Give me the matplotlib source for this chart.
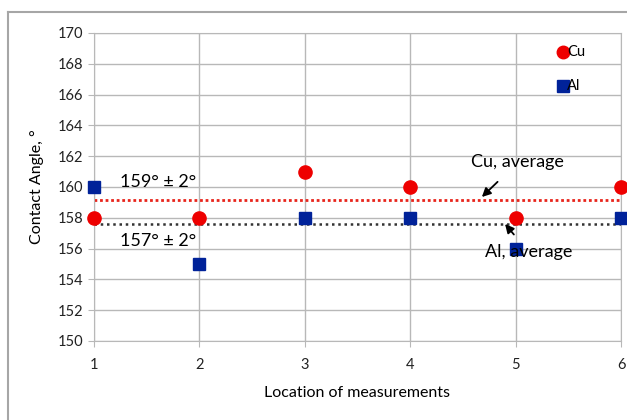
import matplotlib
matplotlib.use("Agg")
import matplotlib.pyplot as plt
from matplotlib.lines import Line2D

plt.rcParams['font.family'] = ['Lato', 'DejaVu Sans']

locations = [1, 2, 3, 4, 5, 6]
cu_values = [158, 158, 161, 160, 158, 160]
al_values = [160, 155, 158, 158, 156, 158]
cu_average = 159.15
al_average = 157.6
y_ticks = [150, 152, 154, 156, 158, 160, 162, 164, 166, 168, 170]

fig = plt.figure(figsize=(6.27, 4.2), dpi=100)
ax = fig.add_axes([94/627, 1-341/420, (621-94)/627, (341-33)/420])

# outer frame
fig.add_artist(Line2D([8/627, 8/627], [0, 1-12/420], transform=fig.transFigure, color='#a6a6a6', lw=1.5))
fig.add_artist(Line2D([8/627, 1], [1-12/420, 1-12/420], transform=fig.transFigure, color='#a6a6a6', lw=1.5))

ax.set_xlim(1, 6)
ax.set_ylim(150, 170)
ax.set_yticks(y_ticks)
ax.set_xticks(locations)
ax.grid(True, color='#b8b8b8', lw=1)
ax.set_axisbelow(True)
for s in ax.spines.values():
    s.set_color('#b8b8b8')
ax.tick_params(axis='both', length=4, color='#b8b8b8', labelsize=10.5, labelcolor='#222222')
ax.tick_params(axis='x', pad=8)

ax.plot([locations[0], locations[-1]], [cu_average]*2, color='#e8251c', lw=2, ls=(0, (1, 1)), zorder=2)
ax.plot([locations[0], locations[-1]], [al_average]*2, color='#333333', lw=1.8, ls=(0, (1, 1.5)), zorder=2)

ax.plot(locations, al_values, 's', color='#002299', ms=8.5, clip_on=False, zorder=3)
ax.plot(locations, cu_values, 'o', color='#ee0000', ms=9.5, clip_on=False, zorder=4)

# legend
ax.plot([5.45], [168.77], 'o', color='#ee0000', ms=9)
ax.text(5.49, 168.77, 'Cu', va='center', ha='left', fontsize=10.5)
ax.plot([5.45], [166.56], 's', color='#002299', ms=8)
ax.text(5.49, 166.56, 'Al', va='center', ha='left', fontsize=10.5)

ax.text(1.25, 160.3, '159° ± 2°', fontsize=13, va='center', ha='left')
ax.text(1.25, 156.5, '157° ± 2°', fontsize=13, va='center', ha='left')

ax.annotate('Cu, average', xy=(4.68, 159.35), xytext=(5.02, 161.6), ha='center', va='center',
            fontsize=13, arrowprops=dict(arrowstyle='-|>', color='black', lw=1.3, shrinkA=9, shrinkB=0))
ax.annotate('Al, average', xy=(4.9, 157.6), xytext=(5.12, 155.8), ha='center', va='center',
            fontsize=13, arrowprops=dict(arrowstyle='-|>', color='black', lw=1.3, shrinkA=6, shrinkB=0))

ax.set_xlabel('Location of measurements', fontsize=11.5, labelpad=10)
ax.set_ylabel('Contact Angle, °', fontsize=11.5, labelpad=10)

fig.savefig('out.png', dpi=100)
